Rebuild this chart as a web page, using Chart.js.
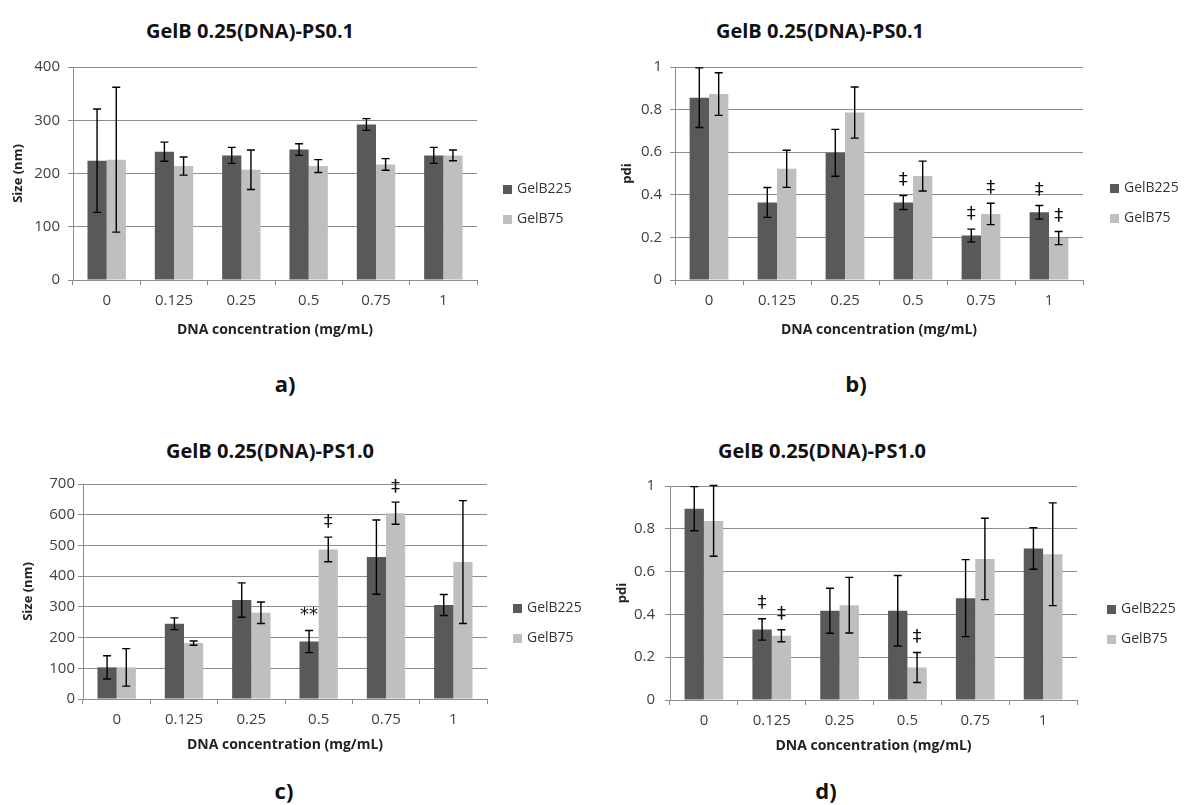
<!DOCTYPE html>
<html>
<head>
<meta charset="utf-8">
<script src="https://cdn.jsdelivr.net/npm/chart.js@4.4.1/dist/chart.umd.min.js"></script>
<style>
  body { margin: 0; background: #fff; font-family: 'Open Sans', sans-serif; }
  #page { position: relative; width: 1184px; height: 805px; overflow: hidden; }
  canvas { position: absolute; }
  .title { position: absolute; width: 320px; margin-left: -160px; text-align: center; font-weight: bold; font-size: 20px; color: #111; line-height: 26px; }
  .letter { position: absolute; width: 40px; margin-left: -20px; text-align: center; font-weight: bold; font-size: 22px; color: #111; line-height: 26px; }
  .legend { position: absolute; font-size: 14px; color: #333; line-height: 18px; }
  .legend span.sw { display: inline-block; width: 9px; height: 9px; margin-right: 5px; vertical-align: -1px; }
  .legend div { height: 30px; }
</style>
</head>
<body>
<div id="page">
  <div class="title" style="left:250px; top:18px;">GelB 0.25(DNA)-PS0.1</div>
  <div class="title" style="left:820px; top:18px;">GelB 0.25(DNA)-PS0.1</div>
  <div class="title" style="left:270px; top:438px;">GelB 0.25(DNA)-PS1.0</div>
  <div class="title" style="left:822px; top:438px;">GelB 0.25(DNA)-PS1.0</div>

  <canvas id="chartA" width="590" height="300" style="left:0px; top:50px;"></canvas>
  <canvas id="chartB" width="594" height="300" style="left:590px; top:50px;"></canvas>
  <canvas id="chartC" width="590" height="300" style="left:0px; top:460px;"></canvas>
  <canvas id="chartD" width="594" height="300" style="left:590px; top:460px;"></canvas>

  <div class="legend" style="left:503px; top:179px;">
    <div><span class="sw" style="background:#595959"></span>GelB225</div>
    <div><span class="sw" style="background:#bfbfbf"></span>GelB75</div>
  </div>
  <div class="legend" style="left:1110px; top:178px;">
    <div><span class="sw" style="background:#595959"></span>GelB225</div>
    <div><span class="sw" style="background:#bfbfbf"></span>GelB75</div>
  </div>
  <div class="legend" style="left:513px; top:598px;">
    <div><span class="sw" style="background:#595959"></span>GelB225</div>
    <div><span class="sw" style="background:#bfbfbf"></span>GelB75</div>
  </div>
  <div class="legend" style="left:1107px; top:599px;">
    <div><span class="sw" style="background:#595959"></span>GelB225</div>
    <div><span class="sw" style="background:#bfbfbf"></span>GelB75</div>
  </div>

  <div class="letter" style="left:285px; top:370px;">a)</div>
  <div class="letter" style="left:856px; top:370px;">b)</div>
  <div class="letter" style="left:284px; top:777px;">c)</div>
  <div class="letter" style="left:826px; top:777px;">d)</div>
</div>

<script type="text/javascript">
// DNA concentration (mg/mL)
const categories = ['0', '0.125', '0.25', '0.5', '0.75', '1'];

// a) size, PS0.1
const sizePS01_225 = [224, 241, 234, 245, 292, 234];
const sizePS01_225Err = [97, 18, 15, 11, 11, 15];
const sizePS01_75 = [226, 214, 207, 214, 217, 234];
const sizePS01_75Err = [136, 17, 37, 12, 11, 10];

// b) pdi, PS0.1
const pdiPS01_225 = [0.856, 0.364, 0.597, 0.364, 0.209, 0.318];
const pdiPS01_225Err = [0.14, 0.07, 0.11, 0.033, 0.03, 0.032];
const pdiPS01_75 = [0.873, 0.522, 0.786, 0.488, 0.310, 0.197];
const pdiPS01_75Err = [0.10, 0.087, 0.12, 0.07, 0.05, 0.031];

// c) size, PS1.0
const sizePS10_225 = [103, 245, 322, 187, 462, 306];
const sizePS10_225Err = [38, 19, 56, 36, 121, 34];
const sizePS10_75 = [103, 182, 281, 487, 605, 446];
const sizePS10_75Err = [61, 7, 35, 40, 36, 200];

// d) pdi, PS1.0
const pdiPS10_225 = [0.894, 0.33, 0.417, 0.417, 0.476, 0.708];
const pdiPS10_225Err = [0.103, 0.05, 0.105, 0.165, 0.18, 0.097];
const pdiPS10_75 = [0.837, 0.30, 0.443, 0.152, 0.659, 0.681];
const pdiPS10_75Err = [0.165, 0.028, 0.13, 0.07, 0.19, 0.24];

// significance marks: [category index, dataset index (0 = GelB225, 1 = GelB75), symbol]
const marksA = [];
const marksB = [[3, 0, '‡'], [4, 0, '‡'], [4, 1, '‡'], [5, 0, '‡'], [5, 1, '‡']];
const marksC = [[3, 0, '**'], [3, 1, '‡'], [4, 1, '‡']];
const marksD = [[1, 0, '‡'], [1, 1, '‡'], [3, 1, '‡']];

Chart.defaults.font.family = "'Open Sans', sans-serif";
Chart.defaults.color = '#404040';

const errorBarPlugin = {
  id: 'errorBars',
  afterDatasetsDraw(chart, args, opts) {
    const ctx = chart.ctx;
    const yScale = chart.scales.y;
    ctx.save();
    ctx.strokeStyle = '#000';
    ctx.lineWidth = 1.4;
    const tops = [];
    chart.data.datasets.forEach(function(ds, i) {
      tops[i] = [];
      chart.getDatasetMeta(i).data.forEach(function(bar, j) {
        const v = ds.data[j], e = ds.errors[j];
        const yTop = yScale.getPixelForValue(v + e);
        const yBot = yScale.getPixelForValue(v - e);
        tops[i][j] = yTop;
        ctx.beginPath();
        ctx.moveTo(bar.x, yTop); ctx.lineTo(bar.x, yBot);
        ctx.moveTo(bar.x - 4, yTop); ctx.lineTo(bar.x + 4, yTop);
        ctx.moveTo(bar.x - 4, yBot); ctx.lineTo(bar.x + 4, yBot);
        ctx.stroke();
      });
    });
    // significance symbols above the error bars
    ctx.fillStyle = '#111';
    ctx.textAlign = 'center';
    ctx.textBaseline = 'middle';
    ctx.font = '18px "DejaVu Sans"';
    (opts.marks || []).forEach(function(m) {
      const bar = chart.getDatasetMeta(m[1]).data[m[0]];
      ctx.fillText(m[2], bar.x, tops[m[1]][m[0]] - 15);
    });
    ctx.restore();
  }
};

function tickText(value) {
  return String(Number(value.toFixed(2)));
}

function buildPanel(id, p) {
  return new Chart(document.getElementById(id), {
    type: 'bar',
    data: {
      labels: categories,
      datasets: [
        { label: 'GelB225', data: p.dark, errors: p.darkErr, backgroundColor: '#595959' },
        { label: 'GelB75', data: p.light, errors: p.lightErr, backgroundColor: '#bfbfbf' }
      ]
    },
    options: {
      responsive: false,
      animation: false,
      layout: { padding: { top: p.top, right: p.right, left: 0, bottom: 0 } },
      datasets: { bar: { categoryPercentage: 0.57, barPercentage: 1.0 } },
      plugins: {
        legend: { display: false },
        tooltip: { enabled: false },
        errorBars: { marks: p.marks }
      },
      scales: {
        x: {
          grid: { offset: true, drawOnChartArea: false, drawTicks: true, tickLength: 5, color: '#8c8c8c' },
          border: { color: '#8c8c8c' },
          ticks: { font: { size: 15 }, padding: 7, color: '#404040' },
          title: { display: true, text: 'DNA concentration (mg/mL)', font: { size: 14, weight: 'bold' }, color: '#222', padding: { top: 0, bottom: p.xTitlePad } },
          afterFit: function(scale) { scale.height = p.xHeight; }
        },
        y: {
          min: 0, max: p.max,
          ticks: { stepSize: p.step, font: { size: 15 }, padding: p.yTickPad, color: '#404040', callback: tickText },
          grid: { color: '#8c8c8c', tickLength: 5 },
          border: { color: '#8c8c8c' },
          title: { display: true, text: p.yTitle, font: { size: 13, weight: 'bold' }, color: '#222', padding: { top: p.yTitlePad, bottom: 0 } },
          afterFit: function(scale) { scale.width = p.yWidth; }
        }
      }
    },
    plugins: [errorBarPlugin]
  });
}

buildPanel('chartA', {
  dark: sizePS01_225, darkErr: sizePS01_225Err, light: sizePS01_75, lightErr: sizePS01_75Err,
  max: 400, step: 100, yTitle: 'Size (nm)', marks: marksA,
  top: 16, right: 113, yWidth: 73, xHeight: 70, yTickPad: 8, yTitlePad: 10, xTitlePad: 12
});
buildPanel('chartB', {
  dark: pdiPS01_225, darkErr: pdiPS01_225Err, light: pdiPS01_75, lightErr: pdiPS01_75Err,
  max: 1, step: 0.2, yTitle: 'pdi', marks: marksB,
  top: 15, right: 101, yWidth: 85, xHeight: 70, yTickPad: 8, yTitlePad: 29, xTitlePad: 12
});
buildPanel('chartC', {
  dark: sizePS10_225, darkErr: sizePS10_225Err, light: sizePS10_75, lightErr: sizePS10_75Err,
  max: 700, step: 100, yTitle: 'Size (nm)', marks: marksC,
  top: 24, right: 103, yWidth: 83, xHeight: 61, yTickPad: 3, yTitlePad: 20, xTitlePad: 7
});
buildPanel('chartD', {
  dark: pdiPS10_225, darkErr: pdiPS10_225Err, light: pdiPS10_75, lightErr: pdiPS10_75Err,
  max: 1, step: 0.2, yTitle: 'pdi', marks: marksD,
  top: 26, right: 107, yWidth: 80, xHeight: 60, yTickPad: 10, yTitlePad: 24, xTitlePad: 6
});
</script>
</body>
</html>
